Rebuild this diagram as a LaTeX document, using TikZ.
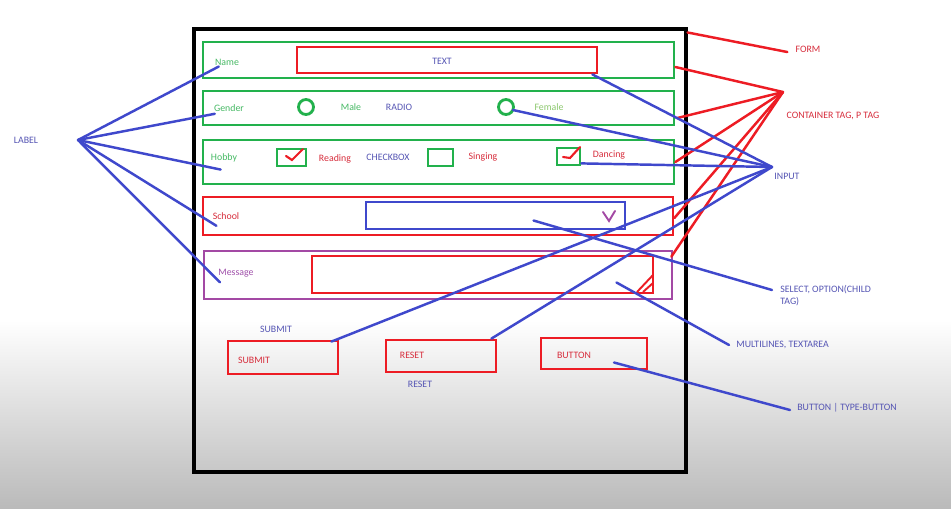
\documentclass[tikz,border=0pt]{standalone}
\usepackage{fontspec}
\setmainfont{Carlito}
\usetikzlibrary{positioning,calc}
\definecolor{paintred}{RGB}{237,28,36}
\definecolor{paintgreen}{RGB}{34,177,76}
\definecolor{paintblue}{RGB}{63,72,204}
\definecolor{paintpurple}{RGB}{163,73,164}
\definecolor{txtgreen}{RGB}{70,185,100}
\definecolor{txtlime}{RGB}{140,200,110}
\definecolor{txtblue}{RGB}{85,85,180}
\definecolor{txtred}{RGB}{215,45,60}
\definecolor{txtpurple}{RGB}{160,80,170}

\begin{document}
\begin{tikzpicture}[
  x=0.02cm, y=-0.02cm,
  every node/.style={font=\fontsize{5.6}{6.8}\selectfont, inner sep=0pt},
  box/.style={rectangle, draw=#1, line width=1.6pt},
  radio/.style={circle, draw=paintgreen, line width=1.6pt, minimum size=0.3cm},
  txt/.style={text=#1},
  redline/.style={draw=paintred, line width=1.4pt, line cap=round},
  blueline/.style={draw=paintblue, line width=1.4pt, line cap=round}
]
  \fill[white] (0,0) rectangle (951,320);
  \shade[top color=white, bottom color=black!27] (0,320) rectangle (951,508);
  \useasboundingbox (0,0) rectangle (951,508);

  \node[box=black, line width=1.8pt, minimum width=9.84cm, minimum height=8.86cm] (form) at (440,250.5) {};

  \node[box=paintgreen, minimum width=9.42cm, minimum height=0.72cm] (rowName) at (438.5,60) {};
  \node[box=paintred, minimum width=6cm, minimum height=0.52cm] (textBox) at (447,60) {};
  \node[txt=txtgreen] (lblName) at (227,62) {Name};
  \node[txt=txtblue] (lblText) at (442,61) {TEXT};

  \node[box=paintgreen, minimum width=9.42cm, minimum height=0.68cm] (rowGender) at (438.5,108) {};
  \node[txt=txtgreen] (lblGender) at (229,108) {Gender};
  \node[radio] (radioM) at (306,107) {};
  \node[txt=txtgreen] (lblMale) at (351,107) {Male};
  \node[txt=txtblue] (lblRadio) at (399,107) {RADIO};
  \node[radio] (radioF) at (506,107) {};
  \node[txt=txtlime] (lblFemale) at (549,107) {Female};

  \node[box=paintgreen, minimum width=9.42cm, minimum height=0.88cm] (rowHobby) at (438.5,162) {};
  \node[txt=txtgreen] (lblHobby) at (224,158) {Hobby};
  \node[box=paintgreen, minimum width=0.58cm, minimum height=0.34cm] (chkRead) at (291.5,157.5) {};
  \node[txt=txtred] (lblReading) at (335,159) {Reading};
  \node[txt=txtblue] (lblCheck) at (388,157) {CHECKBOX};
  \node[box=paintgreen, minimum width=0.5cm, minimum height=0.34cm] (chkSing) at (440.5,157.5) {};
  \node[txt=txtred] (lblSinging) at (483,157) {Singing};
  \node[box=paintgreen, minimum width=0.46cm, minimum height=0.34cm] (chkDance) at (568.5,156.5) {};
  \node[txt=txtred] (lblDancing) at (609,155) {Dancing};
  \draw[paintred, line width=1.2pt, line cap=round] (286,156) -- (292,160) -- (303,149);
  \draw[paintred, line width=1.2pt, line cap=round] (563,157) -- (570,158) -- (580,147);

  \node[box=paintred, minimum width=9.4cm, minimum height=0.76cm] (rowSchool) at (438,216) {};
  \node[txt=txtred] (lblSchool) at (226,216) {School};
  \node[box=paintblue, minimum width=5.18cm, minimum height=0.54cm] (selectBox) at (495.5,215.5) {};
  \draw[paintpurple, line width=1.1pt, line cap=round] (603,212) -- (609,221) -- (615,211);

  \node[box=paintpurple, minimum width=9.36cm, minimum height=0.96cm] (rowMsg) at (438,275) {};
  \node[txt=txtpurple] (lblMsg) at (236,273) {Message};
  \node[box=paintred, minimum width=6.82cm, minimum height=0.74cm] (areaBox) at (482.5,274.5) {};
  \draw[paintred, line width=1.1pt] (637,292) -- (653,275);
  \draw[paintred, line width=1.1pt] (643,292) -- (653,283);

  \node[txt=txtblue] (lblSubmitTop) at (276,329) {SUBMIT};
  \node[box=paintred, minimum width=2.2cm, minimum height=0.66cm] (btnSubmit) at (283,357.5) {};
  \node[txt=txtred] (lblSubmit) at (254,360) {SUBMIT};
  \node[box=paintred, minimum width=2.2cm, minimum height=0.64cm] (btnReset) at (441,356) {};
  \node[txt=txtred] (lblReset) at (412,355) {RESET};
  \node[txt=txtblue] (lblResetBot) at (420,384) {RESET};
  \node[box=paintred, minimum width=2.12cm, minimum height=0.62cm] (btnButton) at (594,353.5) {};
  \node[txt=txtred] (lblButton) at (574,355) {BUTTON};

  \node[txt=txtblue] (lblLabel) at (26,140) {LABEL};
  \node[txt=txtred] (lblForm) at (808,49) {FORM};
  \node[txt=txtred] (lblCont) at (833,116) {CONTAINER TAG, P TAG};
  \node[txt=txtblue] (lblInput) at (787,176) {INPUT};
  \node[txt=txtblue, anchor=west, align=left] (lblSelect) at (780,296) {SELECT, OPTION(CHILD\\TAG)};
  \node[txt=txtblue, anchor=west] (lblMulti) at (736,345) {MULTILINES, TEXTAREA};
  \node[txt=txtblue, anchor=west] (lblBtn) at (797,408) {BUTTON | TYPE-BUTTON};

  \coordinate (hubLabel) at (78,140);
  \coordinate (hubCont) at (783,92);
  \coordinate (hubInput) at (772,167);

  \draw[blueline] (hubLabel) -- ($(lblName.south west)+(4,1)$);
  \draw[blueline] (hubLabel) -- ($(lblGender.south west)+(1,2)$);
  \draw[blueline] (hubLabel) -- ($(lblHobby.south west)+(10,7)$);
  \draw[blueline] (hubLabel) -- ($(lblSchool.south west)+(4,6)$);
  \draw[blueline] (hubLabel) -- ($(lblMsg.south west)+(2,5)$);

  \draw[redline] ($(form.north east)+(0,5)$) -- ($(lblForm.west)+(-8,3)$);
  \draw[redline] (hubCont) -- ($(rowName.east)+(0,7)$);
  \draw[redline] (hubCont) -- ($(rowGender.east)+(2,10)$);
  \draw[redline] (hubCont) -- (rowHobby.east);
  \draw[redline] (hubCont) -- ($(rowSchool.east)+(0,2)$);
  \draw[redline] (hubCont) -- ($(rowMsg.north east)+(-2,7)$);

  \draw[blueline] (hubInput) -- ($(textBox.south east)+(-6,0)$);
  \draw[blueline] (hubInput) -- ($(radioF.center)+(7,3)$);
  \draw[blueline] (hubInput) -- ($(chkDance.south east)+(0,-3)$);
  \draw[blueline] (hubInput) -- ($(btnSubmit.north east)+(-8,2)$);
  \draw[blueline] (hubInput) -- ($(btnReset.north east)+(-6,0)$);

  \draw[blueline] ($(selectBox.center)+(38,5)$) -- ($(lblSelect.west)+(-8,-6)$);
  \draw[blueline] ($(areaBox.center)+(134,8)$) -- ($(lblMulti.west)+(-7,0)$);
  \draw[blueline] ($(btnButton.center)+(20,9)$) -- ($(lblBtn.west)+(-7,2)$);
\end{tikzpicture}
\end{document}
